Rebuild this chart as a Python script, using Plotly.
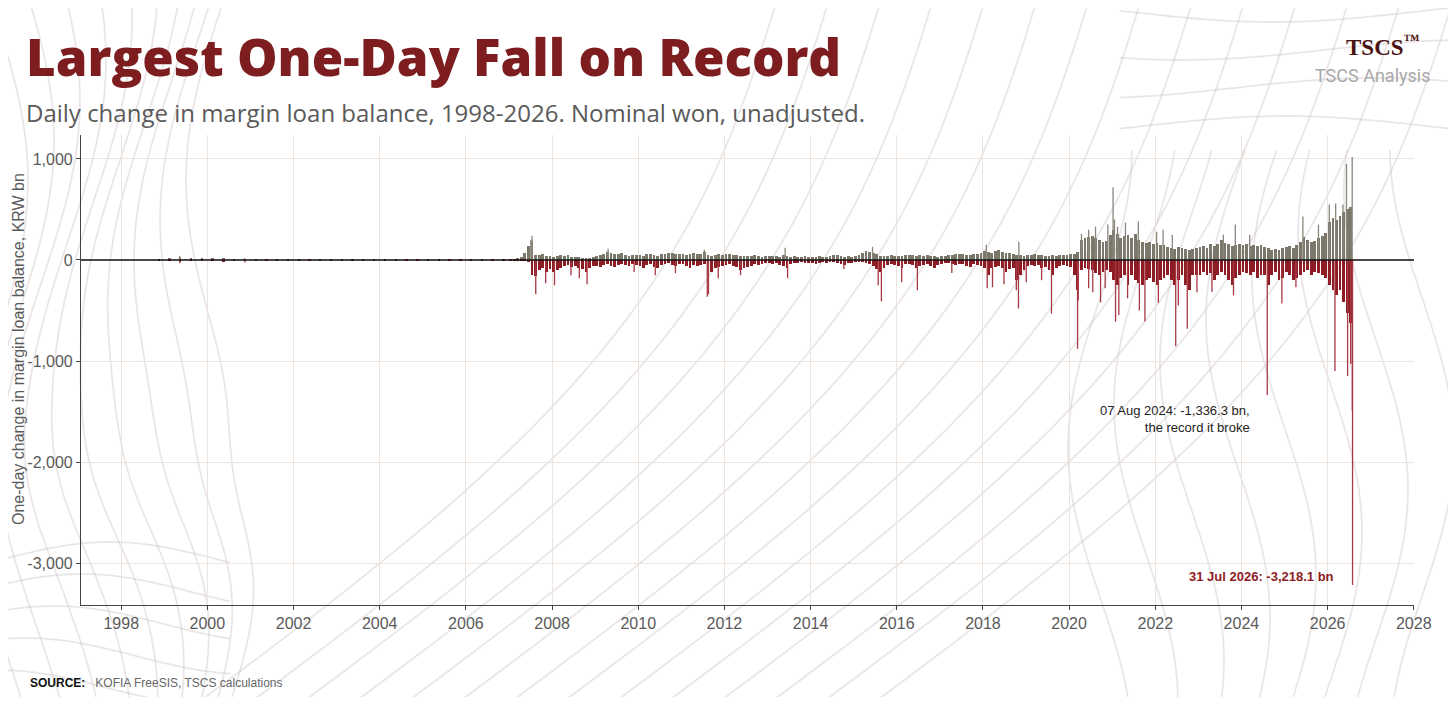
import math
import pandas as pd
import plotly.graph_objects as go

# ---------------- data (KRW bn) ----------------
# early period, quarterly typical daily swings (1998Q4 - 2006Q4)
early_start = "1998-10-01"
early_pos = [5, 15, 25, 15, 12, 10, 18, 8, 5, 4, 3, 3, 2, 3, 2, 2, 2, 2, 3, 2, 2, 2, 2, 3, 3, 2, 3, 3, 4, 3, 4, 5, 6]
early_neg = [-5, -12, -20, -15, -12, -15, -20, -10, -6, -4, -3, -3, -2, -3, -2, -2, -2, -2, -3, -2, -2, -2, -2, -3, -3, -2, -3, -3, -4, -3, -4, -5, -6]

# monthly typical daily rises / falls, Jan 2007 - Jul 2026
monthly_start = "2007-01-01"
pos_2007_2013 = [5, 8, 12, 30, 70, 140, 190, 50, 45, 60, 40, 35,
                 30, 40, 50, 35, 45, 30, 25, 30, 20, 15, 20, 30,
                 40, 45, 60, 80, 70, 60, 55, 70, 50, 40, 45, 50,
                 50, 40, 55, 60, 45, 40, 55, 60, 65, 70, 60, 55,
                 60, 50, 55, 70, 60, 55, 80, 50, 40, 45, 55, 50,
                 55, 60, 50, 45, 35, 40, 35, 40, 45, 35, 30, 35,
                 35, 40, 35, 30, 45, 40, 30, 35, 30, 30, 35, 30]
pos_2014_2019 = [30, 30, 35, 30, 30, 35, 45, 50, 40, 30, 35, 30,
                 40, 50, 70, 90, 80, 70, 60, 40, 35, 40, 45, 40,
                 35, 40, 45, 50, 45, 40, 45, 40, 45, 40, 35, 30,
                 35, 40, 45, 50, 55, 60, 60, 50, 45, 55, 60, 65,
                 90, 80, 70, 85, 100, 80, 70, 65, 60, 50, 45, 40,
                 45, 50, 55, 50, 45, 40, 40, 45, 40, 45, 45, 50]
pos_2020_2026 = [55, 60, 80, 200, 220, 230, 240, 220, 200, 180, 190, 250,
                 300, 260, 220, 240, 250, 220, 260, 200, 180, 170, 180, 160,
                 170, 150, 150, 130, 120, 110, 130, 120, 110, 100, 110, 120,
                 130, 140, 120, 160, 140, 160, 200, 170, 160, 140, 150, 160,
                 150, 160, 140, 150, 140, 150, 130, 120, 100, 110, 100, 120,
                 130, 140, 120, 150, 180, 230, 200, 180, 190, 220, 240, 270,
                 380, 420, 400, 440, 470, 500, 520]
neg_2007_2013 = [-3, -5, -5, -8, -10, -20, -150, -160, -100, -80, -120, -90,
                 -120, -100, -80, -60, -50, -70, -60, -80, -90, -120, -80, -60,
                 -60, -70, -50, -40, -60, -70, -50, -40, -50, -60, -40, -50,
                 -60, -80, -50, -40, -70, -80, -50, -40, -30, -50, -60, -40,
                 -40, -60, -80, -50, -60, -50, -40, -150, -120, -80, -70, -60,
                 -50, -40, -60, -70, -100, -80, -70, -60, -40, -50, -40, -30,
                 -30, -40, -30, -50, -60, -80, -40, -30, -30, -20, -30, -30]
neg_2014_2019 = [-30, -40, -30, -20, -30, -20, -20, -30, -40, -50, -30, -30,
                 -20, -20, -20, -30, -40, -60, -90, -120, -80, -50, -40, -50,
                 -60, -80, -40, -40, -50, -80, -60, -50, -40, -60, -80, -50,
                 -40, -30, -30, -40, -50, -40, -40, -60, -70, -40, -50, -60,
                 -80, -150, -80, -70, -60, -80, -120, -90, -80, -200, -150, -100,
                 -60, -50, -60, -50, -80, -70, -100, -150, -80, -60, -50, -60]
neg_2020_2026 = [-70, -150, -300, -100, -80, -90, -100, -130, -150, -120, -100, -120,
                 -200, -250, -180, -150, -250, -150, -200, -230, -250, -200, -180, -220,
                 -250, -200, -180, -150, -200, -250, -200, -150, -250, -300, -150, -150,
                 -150, -120, -150, -130, -200, -150, -120, -150, -200, -250, -180, -150,
                 -120, -130, -150, -120, -180, -150, -150, -250, -150, -120, -200, -180,
                 -120, -150, -200, -180, -150, -120, -100, -150, -120, -130, -150, -180,
                 -250, -300, -350, -300, -420, -520, -620]

# individual large days
spike_up_dates = ["1999-05-10", "2000-11-10", "2007-07-05", "2007-07-16", "2009-04-20", "2011-07-15",
                  "2013-05-30", "2015-06-10", "2018-01-29", "2018-11-01", "2020-04-15", "2020-06-15",
                  "2020-08-12", "2020-11-25", "2021-01-08", "2021-01-20", "2021-02-15", "2021-04-23",
                  "2021-08-10", "2022-01-12", "2022-03-08", "2022-05-25", "2023-08-01", "2023-11-10",
                  "2024-03-11", "2025-06-05", "2025-10-15", "2026-01-15", "2026-03-10", "2026-05-11",
                  "2026-06-10", "2026-07-28"]
spike_up_vals = [40, 20, 200, 240, 110, 100,
                 120, 130, 150, 180, 260, 300,
                 330, 350, 720, 400, 330, 370,
                 380, 280, 300, 250, 250, 350,
                 250, 430, 350, 550, 560, 550,
                 950, 1020]
spike_dn_dates = ["1999-05-12", "2000-11-14", "2007-08-16", "2007-11-08", "2008-01-22", "2008-06-10",
                  "2008-08-19", "2008-10-24", "2009-11-27", "2010-05-25", "2010-11-12", "2011-08-09",
                  "2011-08-19", "2011-11-10", "2012-05-17", "2013-06-20", "2014-10-10", "2015-07-28",
                  "2015-08-24", "2016-02-12", "2016-06-24", "2017-04-12", "2018-02-06", "2018-03-23",
                  "2018-06-28", "2018-10-11", "2018-10-29", "2019-01-03", "2019-05-13", "2019-08-05",
                  "2020-03-13", "2020-03-19", "2020-06-15", "2020-07-20", "2020-09-24", "2020-11-02",
                  "2021-01-29", "2021-02-26", "2021-05-11", "2021-08-19", "2021-10-05", "2022-01-27",
                  "2022-06-23", "2022-07-15", "2022-09-29", "2022-12-20", "2023-04-26", "2023-10-26",
                  "2024-08-07", "2024-12-09", "2025-04-07", "2026-03-04", "2026-06-19", "2026-07-15",
                  "2026-07-29", "2026-07-31"]
spike_dn_vals = [-30, -25, -340, -230, -250, -150,
                 -180, -240, -120, -150, -130, -365,
                 -340, -180, -150, -180, -90, -250,
                 -410, -220, -300, -130, -280, -270,
                 -240, -300, -480, -220, -200, -530,
                 -880, -400, -280, -320, -420, -280,
                 -610, -545, -380, -500, -610, -425,
                 -855, -450, -680, -320, -315, -350,
                 -1336.3, -430, -270, -1100, -1150, -1030,
                 -1490, -3218.1]

x_ticks = [str(y) for y in range(1998, 2029, 2)]
y_ticks = [1000, 0, -1000, -2000, -3000]

# ---------------- figure ----------------
GREY = "#7b776b"
RED = "#8e1c25"
DAY = 86400000

early_x = pd.date_range(early_start, periods=len(early_pos), freq="QS") + pd.Timedelta(days=45)
m_pos = pos_2007_2013 + pos_2014_2019 + pos_2020_2026
m_neg = neg_2007_2013 + neg_2014_2019 + neg_2020_2026
m_x = pd.date_range(monthly_start, periods=len(m_pos), freq="MS") + pd.Timedelta(days=14)

fig = go.Figure()
fig.add_bar(x=early_x, y=early_pos, width=20 * DAY, marker=dict(color=GREY, line_width=0), hoverinfo="skip")
fig.add_bar(x=early_x, y=early_neg, width=20 * DAY, marker=dict(color=RED, line_width=0), hoverinfo="skip")
fig.add_bar(x=m_x, y=m_pos, width=24 * DAY, marker=dict(color=GREY, line_width=0), hoverinfo="skip")
fig.add_bar(x=m_x, y=m_neg, width=24 * DAY, marker=dict(color=RED, line_width=0), hoverinfo="skip")


def stems(dates, vals):
    xs, ys = [], []
    for d, v in zip(dates, vals):
        xs += [d, d, None]
        ys += [0, v, None]
    return xs, ys


ux, uy = stems(spike_up_dates, spike_up_vals)
dx, dy = stems(spike_dn_dates, spike_dn_vals)
fig.add_scatter(x=ux, y=uy, mode="lines", line=dict(color="#8a867c", width=1.3), hoverinfo="skip")
fig.add_scatter(x=dx, y=dy, mode="lines", line=dict(color="#a63a44", width=1.3), hoverinfo="skip")

fig.add_shape(type="line", xref="paper", yref="y", x0=0, x1=1, y0=0, y1=0,
              line=dict(color="#111111", width=1.4), layer="above")

# the page body has an 8px margin; the figure is sized/placed so that the
# plot area sits at screen x 81..1414, y 135..605
OFF = 8
FIG_W, FIG_H = 1456 - 2 * OFF, 705 - 2 * OFF
fig.update_layout(
    width=FIG_W, height=FIG_H,
    margin=dict(l=81 - OFF, r=FIG_W - (1414 - OFF), t=135 - OFF, b=FIG_H - (605 - OFF)),
    paper_bgcolor="#ffffff", plot_bgcolor="rgba(0,0,0,0)",
    showlegend=False, barmode="overlay", bargap=0,
    font=dict(family="Liberation Sans, Arial, sans-serif", color="#555555"),
)
fig.update_xaxes(
    type="date", range=["1997-01-25", "2028-01-03"],
    tickvals=[f"{y}-01-01" for y in x_ticks], ticktext=x_ticks,
    tickfont=dict(size=16, color="#5a5a5a"),
    showgrid=True, gridcolor="#ece4dd", gridwidth=1,
    showline=True, linecolor="#444444", linewidth=1.2,
    ticks="outside", ticklen=4, tickcolor="#444444",
    zeroline=False,
)
fig.update_yaxes(
    range=[-3415, 1237], tickvals=y_ticks,
    ticktext=[f"{v:,}" for v in y_ticks],
    tickfont=dict(size=16, color="#5a5a5a"),
    showgrid=True, gridcolor="#ece4dd", gridwidth=1,
    showline=True, linecolor="#444444", linewidth=1.2,
    ticks="outside", ticklen=4, tickcolor="#444444",
    zeroline=False,
)

W, H = 1333.0, 470.0


def px(xp):
    return (xp - 81) / W


def py(yp):
    return (605 - yp) / H


# decorative topographic background lines (screen pixel coords -> paper)
def deco_path(pts):
    d = "M " + " L ".join(f"{px(x):.4f},{py(y):.4f}" for x, y in pts)
    fig.add_shape(type="path", path=d, xref="paper", yref="paper", layer="below",
                  line=dict(color="rgba(200,188,192,0.38)", width=1.8))


for i in range(10):
    x0 = -10 + i * 26
    deco_path([(x0 + 38 * math.sin(y / 115 + 0.35 * i) - 25 * math.exp(-((y - 480) / 90) ** 2) * (i / 10),
                y) for y in range(-10, 716, 12)])
for i in range(6):
    y0 = 560 + i * 32
    deco_path([(x, y0 - 18 * math.sin(x / 70 + i * 0.4)) for x in range(-10, 240, 10)])
for i in range(14):
    xs, xe = 180 + i * 52, 780 + i * 52
    pts = []
    for k in range(41):
        t = k / 40
        pts.append((xs + (xe - xs) * t + 120 * math.sin(math.pi * t), 716 - 726 * t))
    deco_path(pts)
for i in range(8):
    x0 = 1100 + i * 46
    deco_path([(x0 + 32 * math.sin(y / 95 + i * 0.45), y) for y in range(150, 716, 12)])
for i in range(4):
    y0 = 12 + i * 38
    deco_path([(x, y0 + 10 * math.sin(x / 90 + i)) for x in range(1120, 1460, 12)])

fig.add_annotation(text="Largest One-Day Fall on Record", x=px(24), y=py(56), xref="paper", yref="paper",
                   xanchor="left", yanchor="middle", showarrow=False,
                   font=dict(family="Open Sans", size=51, color="#7d1d1f", weight=800))
fig.add_annotation(text="Daily change in margin loan balance, 1998-2026. Nominal won, unadjusted.",
                   x=px(24), y=py(112), xref="paper", yref="paper", xanchor="left", yanchor="middle",
                   showarrow=False, font=dict(family="Open Sans", size=24, color="#5a5a5a"))
fig.add_annotation(text="TSCS<sup>™</sup>", x=px(1422), y=py(45), xref="paper", yref="paper",
                   xanchor="right", yanchor="middle", showarrow=False,
                   font=dict(family="Liberation Serif, DejaVu Serif, serif", size=23, color="#4a1212", weight=700))
fig.add_annotation(text="TSCS Analysis", x=px(1432), y=py(75), xref="paper", yref="paper",
                   xanchor="right", yanchor="middle", showarrow=False,
                   font=dict(family="Roboto", size=18, color="#a8a8a8"))
fig.add_annotation(text="One-day change in margin loan balance, KRW bn", x=px(18), y=py(349),
                   xref="paper", yref="paper", textangle=-90, showarrow=False,
                   xanchor="center", yanchor="middle",
                   font=dict(family="Liberation Sans, Arial", size=16, color="#5a5a5a"))
fig.add_annotation(text="07 Aug 2024: -1,336.3 bn,<br>the record it broke", x="2024-04-01", y=-1570,
                   xanchor="right", yanchor="middle", align="right", showarrow=False,
                   font=dict(family="Liberation Sans, Arial", size=13, color="#222222"))
fig.add_annotation(text="<b>31 Jul 2026: -3,218.1 bn</b>", x="2026-03-12", y=-3130,
                   xanchor="right", yanchor="middle", showarrow=False,
                   font=dict(family="Liberation Sans, Arial", size=13, color="#8e1c25"))
fig.add_annotation(text="<b>SOURCE:</b>   <span style='color:#666666'>KOFIA FreeSIS, TSCS calculations</span>",
                   x=px(28), y=py(683), xref="paper", yref="paper", xanchor="left", yanchor="middle",
                   showarrow=False, font=dict(family="Liberation Sans, Arial", size=12, color="#111111"))

fig.write_html("out.html")
